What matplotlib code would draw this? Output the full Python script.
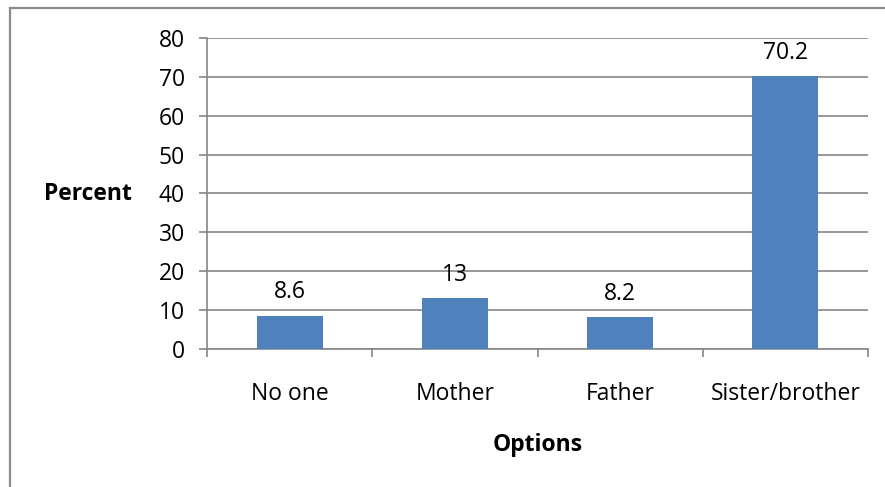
import matplotlib
import matplotlib.pyplot as plt
from matplotlib.patches import Rectangle
import numpy as np

matplotlib.use('Agg')

plt.rcParams['font.family'] = ['Open Sans', 'DejaVu Sans']

# Who the respondents talk to
options = ["No one", "Mother", "Father", "Sister/brother"]
percent = [8.6, 13, 8.2, 70.2]
value_labels = ["8.6", "13", "8.2", "70.2"]

bar_color = "#4F81BD"
line_color = "#868686"
fs = 16.5

fig = plt.figure(figsize=(8.85, 4.87), dpi=100)
ax = fig.add_axes([0.2339, 0.2834, 0.7469, 0.6386])

# outer chart border
fig.patches.append(Rectangle((0.0113, -0.05), 1.2, 1.0336, transform=fig.transFigure,
                             fill=False, edgecolor="#8c8c8c", linewidth=1.6))

x = np.arange(len(options))
bars = ax.bar(x, percent, width=0.4, color=bar_color, zorder=3)

for xi, val, lab in zip(x, percent, value_labels):
    ax.annotate(lab, (xi, val), xytext=(0, 8), textcoords="offset points",
                ha="center", va="bottom", fontsize=fs)

ax.set_xlim(-0.5, len(options) - 0.5)
ax.set_ylim(0, 80)
ax.set_yticks(np.arange(0, 81, 10))
ax.yaxis.grid(True, color=line_color, linewidth=1.2, zorder=0)

# category ticks sit between the bars
ax.set_xticks(np.arange(-0.5, len(options), 1.0))
ax.set_xticklabels([])
ax.set_xticks(x, minor=True)
ax.set_xticklabels(options, minor=True, fontsize=fs)
ax.tick_params(axis="x", which="minor", length=0, pad=24)
ax.tick_params(axis="x", which="major", length=6, width=1.2, color=line_color, direction="out")
ax.tick_params(axis="y", length=6, width=1.2, color=line_color, labelsize=fs, pad=10)

for side in ["top", "right"]:
    ax.spines[side].set_visible(False)
for side in ["left", "bottom"]:
    ax.spines[side].set_color(line_color)
    ax.spines[side].set_linewidth(1.2)

fig.text(88 / 885, 1 - 194 / 487, "Percent", ha="center", va="center",
         fontsize=fs, fontweight="bold")
fig.text(538 / 885, 1 - 445 / 487, "Options", ha="center", va="center",
         fontsize=fs, fontweight="bold")

plt.savefig("out.png", dpi=100)
plt.close()
